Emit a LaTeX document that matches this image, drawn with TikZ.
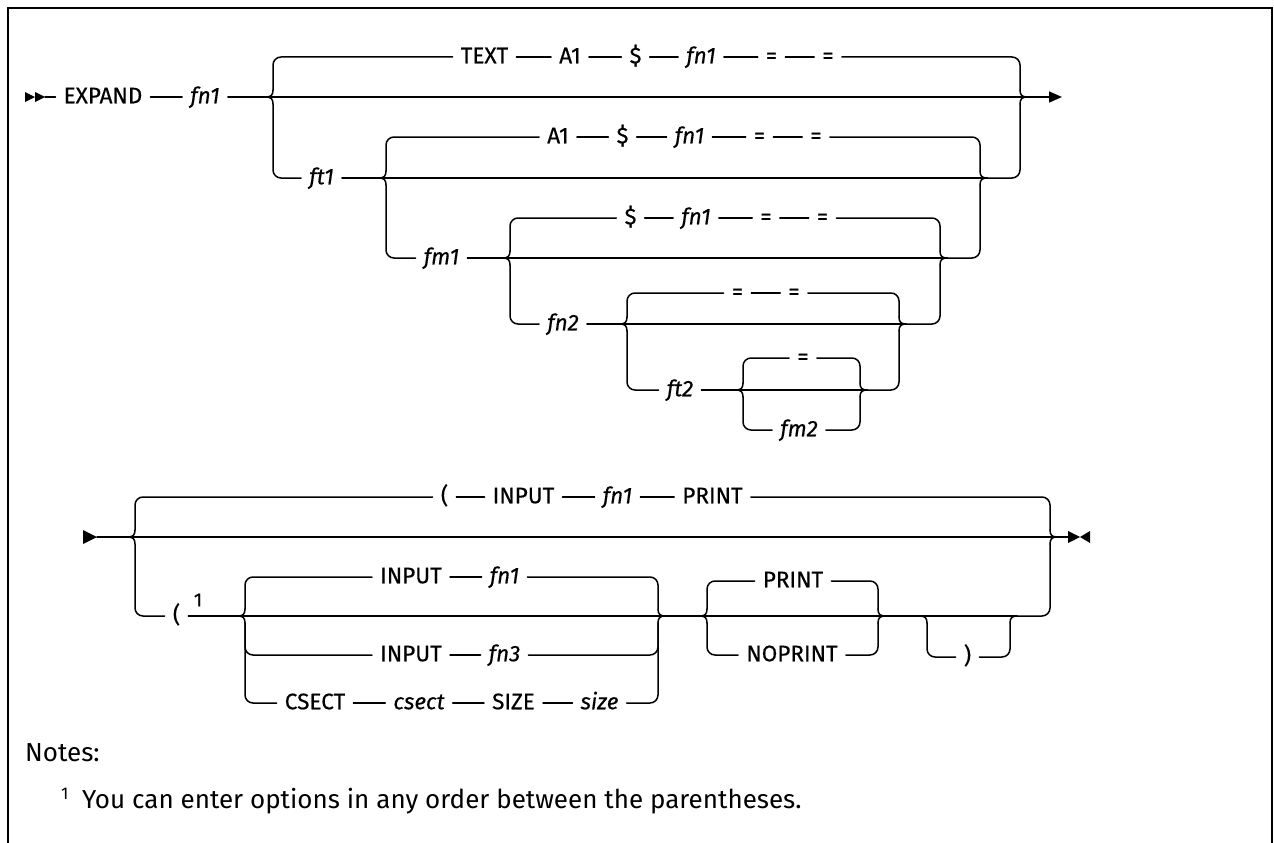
\documentclass[tikz,border=0pt]{standalone}
\usepackage{fontspec}
\setmainfont{Fira Sans}
\newfontfamily\railfont[FakeBold=0.4]{Fira Sans}
\usetikzlibrary{calc,arrows.meta}
\tikzset{
  rail/.style={line width=1.5pt, line cap=round, line join=round},
  rc/.style={rounded corners=8pt},
  kw/.style={font=\railfont\fontsize{22.5}{26}\selectfont, inner xsep=8pt, inner ysep=0pt, text height=14.5pt, text depth=2pt},
  var/.style={kw, font=\railfont\fontsize{22.5}{26}\selectfont\itshape},
  ckw/.style={kw, font=\railfont\fontsize{22.5}{26}\selectfont},
  cvar/.style={kw, font=\railfont\fontsize{22.5}{26}\selectfont\itshape},
  notefont/.style={inner sep=0pt, anchor=base west, font=\fontsize{26}{30}\selectfont},
}
\newcommand\railLU[1]{\coordinate (#1u) at ($(#1)+(7,-7)$); \draw[rail] (#1) .. controls ($(#1)+(5,0)$) and ($(#1)+(7,-2)$) .. (#1u);}
\newcommand\railLD[1]{\coordinate (#1d) at ($(#1)+(7,7)$); \draw[rail] (#1) .. controls ($(#1)+(5,0)$) and ($(#1)+(7,2)$) .. (#1d);}
\newcommand\railRU[1]{\coordinate (#1u) at ($(#1)+(-7,-7)$); \draw[rail] (#1) .. controls ($(#1)+(-5,0)$) and ($(#1)+(-7,-2)$) .. (#1u);}
\newcommand\railRD[1]{\coordinate (#1d) at ($(#1)+(-7,7)$); \draw[rail] (#1) .. controls ($(#1)+(-5,0)$) and ($(#1)+(-7,2)$) .. (#1d);}
\begin{document}
\begin{tikzpicture}[x=1pt,y=-1pt]
\useasboundingbox (0,0) rectangle (1274,843);
% frame
\draw[line width=2pt] (8,843) -- (8,8) -- (1272,8) -- (1272,843);

% ================= first diagram =================
\fill (25,92) -- (35,97) -- (25,102) -- cycle;
\fill (35,92) -- (45,97) -- (35,102) -- cycle;
\coordinate (startA) at (45,97);
\node[kw] (expand) at (103,97) {EXPAND};
\node[var] (fnA) at (205,97) {fn1};
\coordinate (endA) at (1062,97);

% level A
\coordinate (AL) at (266,97); \coordinate (AR) at (1027,97);
\railLU{AL}\railLD{AL}\railRU{AR}\railRD{AR}
\draw[rail] (startA) -- (expand.west) (expand.east) -- (fnA.west);
\draw[rail] (fnA.east) -- (AL) -- (AR);
\draw[rail,-{Triangle[length=13pt,width=11pt]}] (AR) -- (endA);
\node[kw] (a1) at (484.5,57) {TEXT};
\node[kw] (a2) at (570,57) {A1};
\node[kw] (a3) at (635.5,57) {\$};
\node[var] (a4) at (701,57) {fn1};
\node[kw] (a5) at (771.5,57) {=};
\node[kw] (a6) at (828,57) {=};
\draw[rail,rc] (ALu) |- (a1.west);
\draw[rail] (a1.east) -- (a2.west) (a2.east) -- (a3.west) (a3.east) -- (a4.west)
            (a4.east) -- (a5.west) (a5.east) -- (a6.west);
\draw[rail,rc] (a6.east) -| (ARu);
\node[var] (ft1) at (321.5,178) {ft1};
\draw[rail,rc] (ALd) |- (ft1.west);

% level B
\coordinate (BL) at (379,178); \coordinate (BR) at (987,178);
\railLU{BL}\railLD{BL}\railRU{BR}\railRD{BR}
\draw[rail] (ft1.east) -- (BL) -- (BR);
\draw[rail,rc] (BR) -| (ARd);
\node[kw] (b1) at (558,137) {A1};
\node[kw] (b2) at (622.5,137) {\$};
\node[var] (b3) at (689.5,137) {fn1};
\node[kw] (b4) at (759.5,137) {=};
\node[kw] (b5) at (816,137) {=};
\draw[rail,rc] (BLu) |- (b1.west);
\draw[rail] (b1.east) -- (b2.west) (b2.east) -- (b3.west) (b3.east) -- (b4.west) (b4.east) -- (b5.west);
\draw[rail,rc] (b5.east) -| (BRu);
\node[var] (fm1) at (441.5,258) {fm1};
\draw[rail,rc] (BLd) |- (fm1.west);

% level C
\coordinate (CL) at (503,258); \coordinate (CR) at (947,258);
\railLU{CL}\railLD{CL}\railRU{CR}\railRD{CR}
\draw[rail] (fm1.east) -- (CL) -- (CR);
\draw[rail,rc] (CR) -| (BRd);
\node[kw] (c1) at (630.5,218) {\$};
\node[var] (c2) at (696,218) {fn1};
\node[kw] (c3) at (766,218) {=};
\node[kw] (c4) at (822.5,218) {=};
\draw[rail,rc] (CLu) |- (c1.west);
\draw[rail] (c1.east) -- (c2.west) (c2.east) -- (c3.west) (c3.east) -- (c4.west);
\draw[rail,rc] (c4.east) -| (CRu);
\node[var] (fn2) at (563,324) {fn2};
\draw[rail,rc] (CLd) |- (fn2.west);

% level D
\coordinate (DL) at (620,324); \coordinate (DR) at (906,324);
\railLU{DL}\railLD{DL}\railRU{DR}\railRD{DR}
\draw[rail] (fn2.east) -- (DL) -- (DR);
\draw[rail,rc] (DR) -| (CRd);
\node[kw] (d1) at (737.5,293) {=};
\node[kw] (d2) at (794,293) {=};
\draw[rail,rc] (DLu) |- (d1.west);
\draw[rail] (d1.east) -- (d2.west);
\draw[rail,rc] (d2.east) -| (DRu);
\node[var] (ft2) at (680,390) {ft2};
\draw[rail,rc] (DLd) |- (ft2.west);

% level E
\coordinate (EL) at (736,390); \coordinate (ER) at (867,390);
\railLU{EL}\railLD{EL}\railRU{ER}\railRD{ER}
\draw[rail] (ft2.east) -- (EL) -- (ER);
\draw[rail,rc] (ER) -| (DRd);
\node[kw] (e1) at (803,358) {=};
\draw[rail,rc] (ELu) |- (e1.west);
\draw[rail,rc] (e1.east) -| (ERu);
\node[var] (fm2) at (799,430) {fm2};
\draw[rail,rc] (ELd) |- (fm2.west);
\draw[rail,rc] (fm2.east) -| (ERd);

% ================= second diagram =================
\fill (83,530) -- (97,537) -- (83,544) -- cycle;
\coordinate (startF) at (97,537);
\fill (1068,531) -- (1080,537) -- (1068,543) -- cycle;
\fill (1090,531) -- (1080,537) -- (1090,543) -- cycle;
\coordinate (endF) at (1069,537);

% level F
\coordinate (FL) at (128,537); \coordinate (FR) at (1057,537);
\railLU{FL}\railLD{FL}\railRU{FR}\railRD{FR}
\draw[rail] (startF) -- (FL) -- (FR) -- (endF);
\node[ckw] (f1) at (444.5,497) {(};
\node[ckw] (f2) at (523.5,497) {INPUT};
\node[cvar] (f3) at (617.5,497) {fn1};
\node[ckw] (f4) at (712.5,497) {PRINT};
\draw[rail,rc] (FLu) |- (f1.west);
\draw[rail] (f1.east) -- (f2.west) (f2.east) -- (f3.west) (f3.east) -- (f4.west);
\draw[rail,rc] (f4.east) -| (FRu);
\node[ckw] (lp) at (176.5,616) {(};
\node[inner sep=0pt, font=\railfont\fontsize{19}{20}\selectfont] (sup1) at (198,600) {1};
\draw[rail,rc] (FLd) |- (lp.west);

% level G
\coordinate (GL) at (238,616); \coordinate (GR) at (665,616);
\railLU{GL}\railLD{GL}\railRU{GR}\railRD{GR}
\draw[rail] (lp.east) -- (GL) -- (GR);
\node[ckw] (g1) at (411,577) {INPUT};
\node[cvar] (g2) at (504.5,577) {fn1};
\node[ckw] (g3) at (411,655) {INPUT};
\node[cvar] (g4) at (504.5,655) {fn3};
\node[ckw] (g5) at (315,703) {CSECT};
\node[cvar] (g6) at (419,703) {csect};
\node[ckw] (g7) at (513.5,703) {SIZE};
\node[cvar] (g8) at (599.5,703) {size};
\draw[rail,rc] (GLu) |- (g1.west);
\draw[rail] (g1.east) -- (g2.west);
\draw[rail,rc] (g2.east) -| (GRu);
\draw[rail,rc] (GLd) |- (g3.west);
\draw[rail] (g3.east) -- (g4.west);
\draw[rail,rc] (g4.east) -| (GRd);
\draw[rail,rc] (GLd) |- (g5.west);
\draw[rail] (g5.east) -- (g6.west) (g6.east) -- (g7.west) (g7.east) -- (g8.west);
\draw[rail,rc] (g8.east) -| (GRd);

% level H
\coordinate (HL) at (700,616); \coordinate (HR) at (885,616);
\railLU{HL}\railLD{HL}\railRU{HR}\railRD{HR}
\draw[rail] (GR) -- (HL) -- (HR);
\node[ckw] (h1) at (793,581) {PRINT};
\node[ckw] (h2) at (792,655) {NOPRINT};
\draw[rail,rc] (HLu) |- (h1.west);
\draw[rail,rc] (h1.east) -| (HRu);
\draw[rail,rc] (HLd) |- (h2.west);
\draw[rail,rc] (h2.east) -| (HRd);

% level K
\coordinate (KL) at (920,616); \coordinate (KR) at (1017,616);
\railLD{KL}\railRD{KR}
\draw[rail] (HR) -- (KL) -- (KR);
\draw[rail,rc] (KR) -| (FRd);
\node[ckw] (k1) at (967.5,657) {)};
\draw[rail,rc] (KLd) |- (k1.west);
\draw[rail,rc] (k1.east) -| (KRd);

% ================= notes =================
\node[notefont] (notes) at (25,761) {Notes:};
\node[inner sep=0pt, anchor=base west, font=\fontsize{17}{20}\selectfont] (nsup) at (61,799) {1};
\node[notefont] (note1) at (82,808) {You can enter options in any order between the parentheses.};
\end{tikzpicture}
\end{document}
